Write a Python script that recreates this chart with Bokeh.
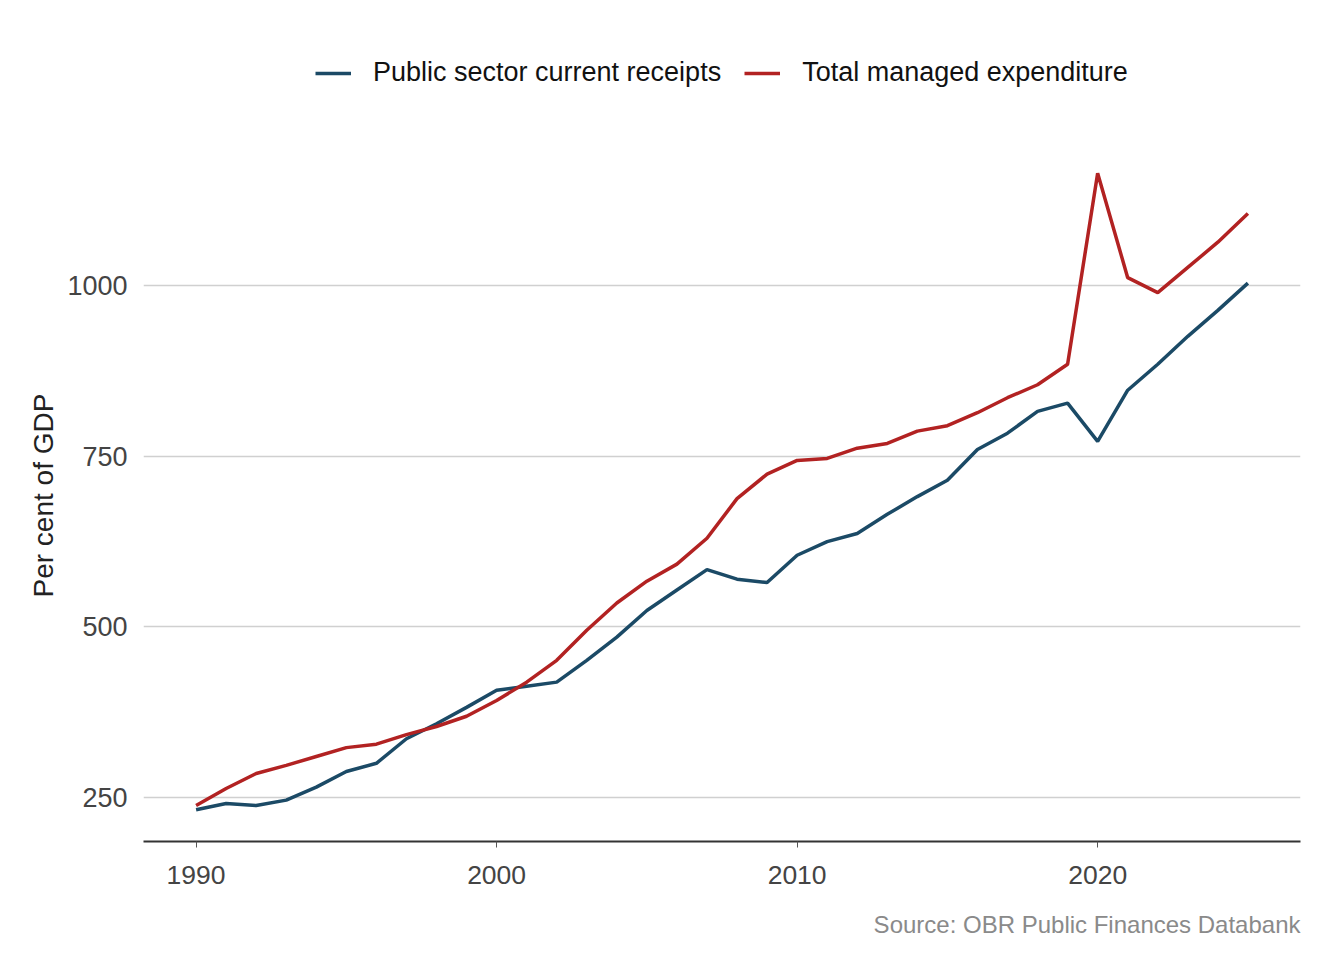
from bokeh.plotting import figure
from bokeh.models import (ColumnDataSource, Range1d, FixedTicker, Legend, LegendItem, Title)
from bokeh.embed import file_html
from bokeh.resources import INLINE

years = list(range(1990, 2026))
receipts = [232, 241, 238, 246, 265, 288, 300, 336, 358, 382,
            407, 413, 419, 451, 485, 524, 554, 584, 570, 565,
            605, 625, 637, 665, 691, 715, 760, 784, 816, 828,
            772, 847, 885, 926, 964, 1004]
expenditure = [238, 263, 285, 297, 310, 323, 328, 342, 354, 369,
               392, 419, 451, 495, 535, 567, 592, 630, 688, 724,
               744, 747, 762, 769, 787, 795, 814, 836, 855, 885,
               1165, 1012, 990, 1027, 1064, 1106]
series_names = ["Public sector current receipts", "Total managed expenditure"]
x_ticks = [1990, 2000, 2010, 2020]
y_ticks = [250, 500, 750, 1000]
source_text = "Source: OBR Public Finances Databank"
y_title = "Per cent of GDP"

BLUE = "#1b4a66"
RED = "#b22222"
FONT = "Liberation Sans"

src = ColumnDataSource(dict(year=years, receipts=receipts, expenditure=expenditure))

# data panel spans 700 px (y=141..841); frame is extended upward to hold the legend
ymin = min(min(receipts), min(expenditure))
ymax = max(max(receipts), max(expenditure))
pad = 0.05 * (ymax - ymin)
y_lo = ymin - pad
y_hi_data = ymax + pad
H = 960
FRAME_TOP, FRAME_BOTTOM, DATA_TOP = 40, 841, 141
y_hi = y_lo + (y_hi_data - y_lo) * (FRAME_BOTTOM - FRAME_TOP) / (FRAME_BOTTOM - DATA_TOP)

p = figure(width=1328, height=H, output_backend="svg", toolbar_location=None,
           x_range=Range1d(1988.25, 2026.75), y_range=Range1d(y_lo, y_hi),
           min_border_left=143, min_border_right=28, min_border_top=FRAME_TOP,
           min_border_bottom=H - FRAME_BOTTOM)
p.outline_line_color = None
p.background_fill_color = "white"
p.border_fill_color = "white"

r1 = p.line("year", "receipts", source=src, line_color=BLUE, line_width=3.5)
r2 = p.line("year", "expenditure", source=src, line_color=RED, line_width=3.5)

p.xgrid.grid_line_color = None
p.ygrid.grid_line_color = "#d0d0d0"
p.ygrid.grid_line_width = 1.5
p.ygrid.ticker = FixedTicker(ticks=y_ticks)

p.xaxis.ticker = FixedTicker(ticks=x_ticks)
p.xaxis.minor_tick_line_color = None
p.xaxis.major_tick_in = 0
p.xaxis.major_tick_out = 6
p.xaxis.major_tick_line_color = "#555555"
p.xaxis.major_tick_line_width = 1
p.xaxis.axis_line_color = "#333333"
p.xaxis.axis_line_width = 2
p.xaxis.major_label_text_font = FONT
p.xaxis.major_label_text_font_size = "26.5px"
p.xaxis.major_label_text_color = "#444444"
p.xaxis.major_label_standoff = 18

p.yaxis.ticker = FixedTicker(ticks=y_ticks)
p.yaxis.axis_line_color = None
p.yaxis.major_tick_line_color = None
p.yaxis.minor_tick_line_color = None
p.yaxis.major_tick_out = 0
p.yaxis.major_tick_in = 0
p.yaxis.major_label_standoff = 16
p.yaxis.major_label_text_font = FONT
p.yaxis.major_label_text_font_size = "27px"
p.yaxis.major_label_text_color = "#444444"

# y-axis title, positioned along the data panel (not the extended frame)
p.add_layout(Title(text=y_title, align="left", offset=244, standoff=11,
                   text_font=FONT, text_font_size="28px", text_font_style="normal",
                   text_color="#222222"), "left")

legend = Legend(items=[LegendItem(label=series_names[0], renderers=[r1]),
                       LegendItem(label=series_names[1], renderers=[r2])],
                orientation="horizontal", location=(172, 753),
                border_line_color=None, background_fill_alpha=0,
                padding=0, margin=0, spacing=23, label_standoff=22,
                glyph_width=36, glyph_height=24,
                label_text_font=FONT, label_text_font_size="27px",
                label_text_color="#111111")
p.add_layout(legend, "center")

p.add_layout(Title(text=source_text, align="right", standoff=45,
                   text_font=FONT, text_font_size="24px", text_font_style="normal",
                   text_color="#8a8a8a"), "below")

open("out.html", "w").write(file_html(p, INLINE))
